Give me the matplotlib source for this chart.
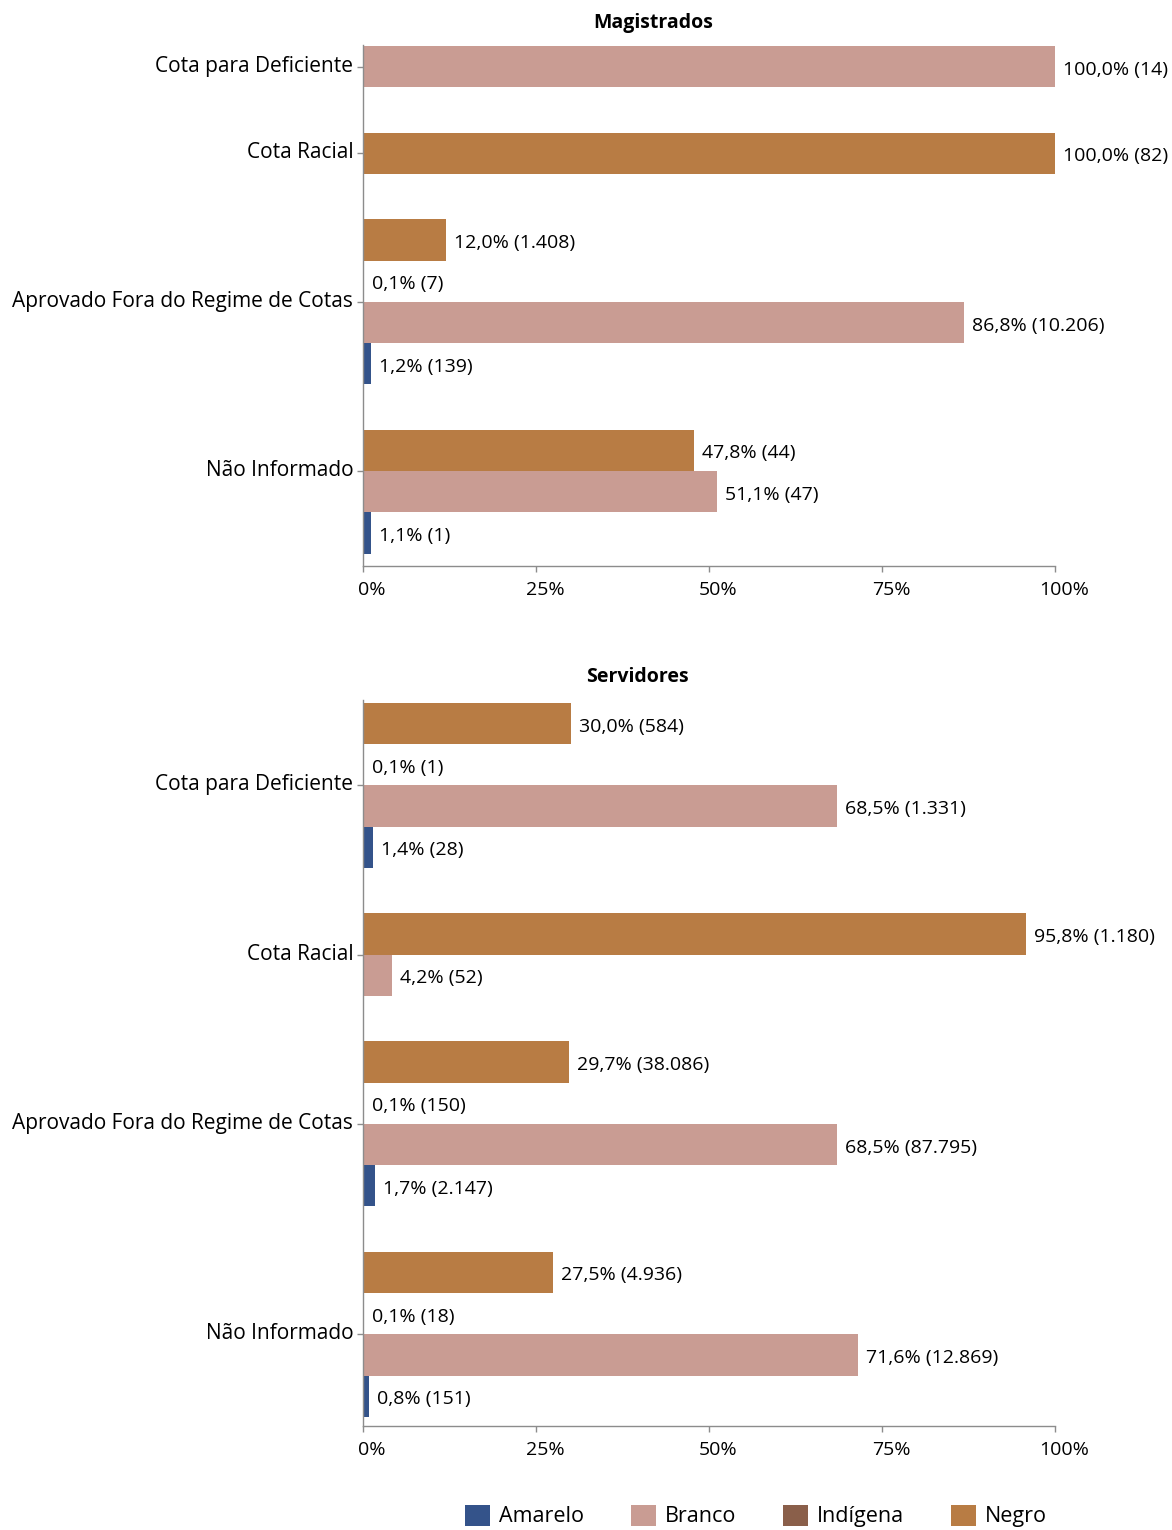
import matplotlib
matplotlib.use("Agg")
import matplotlib.pyplot as plt
from matplotlib.patches import Patch
from matplotlib.transforms import ScaledTranslation

plt.rcParams['font.family'] = ['Open Sans', 'DejaVu Sans']

CATEGORIES = ["Cota para Deficiente", "Cota Racial",
              "Aprovado Fora do Regime de Cotas", "Não Informado"]
# order of the bars inside each group, top to bottom
RACES = ["Negro", "Indígena", "Branco", "Amarelo"]
LEGEND_ORDER = ["Amarelo", "Branco", "Indígena", "Negro"]
COLORS = {"Amarelo": "#34538a", "Branco": "#c99c93",
          "Indígena": "#8a5f4a", "Negro": "#b87c44"}

# Magistrados: percent and count per category (None = no bar)
MAG_NEGRO_PCT = [None, 100.0, 12.0, 47.8]
MAG_NEGRO_N = [None, 82, 1408, 44]
MAG_INDIGENA_PCT = [None, None, 0.1, None]
MAG_INDIGENA_N = [None, None, 7, None]
MAG_BRANCO_PCT = [100.0, None, 86.8, 51.1]
MAG_BRANCO_N = [14, None, 10206, 47]
MAG_AMARELO_PCT = [None, None, 1.2, 1.1]
MAG_AMARELO_N = [None, None, 139, 1]

# Servidores
SER_NEGRO_PCT = [30.0, 95.8, 29.7, 27.5]
SER_NEGRO_N = [584, 1180, 38086, 4936]
SER_INDIGENA_PCT = [0.1, None, 0.1, 0.1]
SER_INDIGENA_N = [1, None, 150, 18]
SER_BRANCO_PCT = [68.5, 4.2, 68.5, 71.6]
SER_BRANCO_N = [1331, 52, 87795, 12869]
SER_AMARELO_PCT = [1.4, None, 1.7, 0.8]
SER_AMARELO_N = [28, None, 2147, 151]

XTICKS = [0, 25, 50, 75, 100]
XTICK_LABELS = ["0%", "25%", "50%", "75%", "100%"]

GAP = 1.1
FS = 14
AXIS_COLOR = "#8c8c8c"


def fmt(pct, n):
    p = f"{pct:.1f}".replace(".", ",")
    c = f"{n:,}".replace(",", ".")
    return f"{p}% ({c})"


def draw_panel(ax, pcts, counts, pad_top, pad_bottom):
    y = 0.0
    ticks = []
    for i, cat in enumerate(CATEGORIES):
        present = [r for r in RACES if pcts[r][i] is not None]
        n = len(present)
        top = y
        for r in present:
            ax.barh(y + 0.5, pcts[r][i], height=1.0, color=COLORS[r])
            ax.annotate(fmt(pcts[r][i], counts[r][i]), (pcts[r][i], y + 0.5),
                        xytext=(8, -3), textcoords="offset pixels",
                        va="center", ha="left", fontsize=FS)
            y += 1
        ticks.append(top + (n // 2 if n > 1 else 0.5))
        y += GAP
    y -= GAP

    ax.set_ylim(y + pad_bottom, -pad_top)
    ax.set_xlim(0, 100)
    ax.set_yticks(ticks)
    ax.set_yticklabels(CATEGORIES, fontsize=15)
    ax.set_xticks(XTICKS)
    ax.set_xticklabels(XTICK_LABELS, fontsize=FS)

    for s in ["top", "right"]:
        ax.spines[s].set_visible(False)
    for s in ["left", "bottom"]:
        ax.spines[s].set_color(AXIS_COLOR)
        ax.spines[s].set_linewidth(1)
    ax.tick_params(axis="both", colors=AXIS_COLOR, labelcolor="black",
                   length=4, width=1)
    ax.tick_params(axis="x", pad=7)
    ax.tick_params(axis="y", pad=3)

    # reference labels sit a little right of the x ticks and above the y ticks
    dpi_tr = ax.figure.dpi_scale_trans
    for lab in ax.get_xticklabels():
        lab.set_transform(lab.get_transform() + ScaledTranslation(9 / 100, 0, dpi_tr))
    for lab in ax.get_yticklabels():
        lab.set_transform(lab.get_transform() + ScaledTranslation(0, 3 / 100, dpi_tr))


fig = plt.figure(figsize=(11.72, 15.3), dpi=100)
W, H = 1172, 1530

ax1 = fig.add_axes([363 / W, 1 - 566 / H, 692 / W, 521 / H])
draw_panel(ax1,
           {"Negro": MAG_NEGRO_PCT, "Indígena": MAG_INDIGENA_PCT,
            "Branco": MAG_BRANCO_PCT, "Amarelo": MAG_AMARELO_PCT},
           {"Negro": MAG_NEGRO_N, "Indígena": MAG_INDIGENA_N,
            "Branco": MAG_BRANCO_N, "Amarelo": MAG_AMARELO_N},
           0.03, 0.3)

ax2 = fig.add_axes([363 / W, 1 - 1426 / H, 692 / W, 726 / H])
draw_panel(ax2,
           {"Negro": SER_NEGRO_PCT, "Indígena": SER_INDIGENA_PCT,
            "Branco": SER_BRANCO_PCT, "Amarelo": SER_AMARELO_PCT},
           {"Negro": SER_NEGRO_N, "Indígena": SER_INDIGENA_N,
            "Branco": SER_BRANCO_N, "Amarelo": SER_AMARELO_N},
           0.07, 0.22)

fig.text(653 / W, 1 - 23 / H, "Magistrados", ha="center", va="center",
         fontsize=FS, fontweight="bold")
fig.text(637 / W, 1 - 677 / H, "Servidores", ha="center", va="center",
         fontsize=FS, fontweight="bold")

handles = [Patch(facecolor=COLORS[r], label=r) for r in LEGEND_ORDER]
fig.legend(handles=handles, loc="center", bbox_to_anchor=(756 / W, 1 - 1516 / H),
           ncol=4, frameon=False, fontsize=15.5, handlelength=1.15, handleheight=1.15,
           handletextpad=0.4, columnspacing=2.2, borderpad=0)

fig.savefig("out.png", dpi=100)
